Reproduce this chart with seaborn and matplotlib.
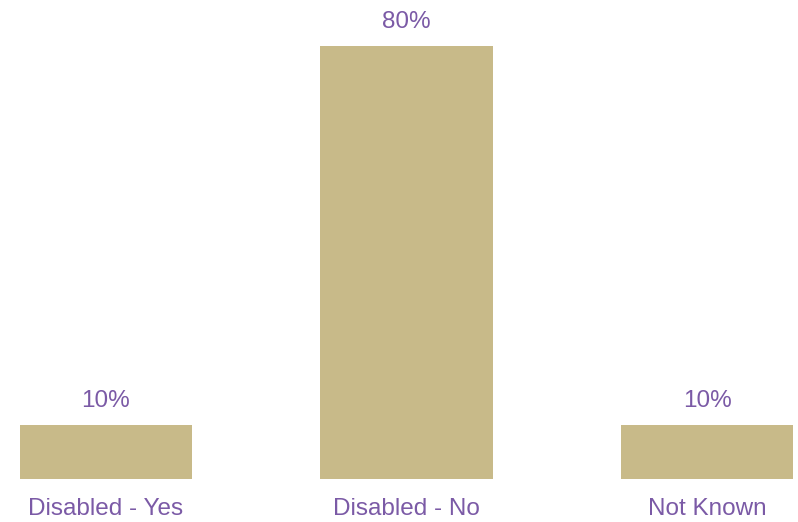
import matplotlib
matplotlib.use("Agg")
import matplotlib.pyplot as plt
import seaborn as sns
import pandas as pd

categories = ["Disabled - Yes", "Disabled - No", "Not Known"]
values = [0.10, 0.80, 0.10]
value_labels = ["10%", "80%", "10%"]

BAR = "#C8BA89"
TXT = "#7B5AA6"

sns.set_theme(style="white")
plt.rcParams['font.family'] = ['Liberation Sans', 'DejaVu Sans']

df = pd.DataFrame({"cat": categories, "val": values})

fig = plt.figure(figsize=(7.98, 5.22), dpi=100)
ax = fig.add_axes([20/798, (522-479)/522, 773/798, 433/522])
sns.barplot(data=df, x="cat", y="val", ax=ax, color=BAR, saturation=1, width=0.575,
            linewidth=0)

ax.set_xlim(-0.286, 2.286)
ax.set_ylim(0, 0.80)
for i, (v, lab) in enumerate(zip(values, value_labels)):
    ax.annotate(lab, (i, v), xytext=(0, 9), textcoords="offset points",
                ha="center", va="bottom", fontsize=17.5, color=TXT)

ax.set_xlabel("")
ax.set_ylabel("")
ax.set_yticks([])
ax.tick_params(axis="x", length=0, pad=13.5, labelsize=17.5, labelcolor=TXT)
for s in ax.spines.values():
    s.set_visible(False)

fig.savefig("out.png", dpi=100)
